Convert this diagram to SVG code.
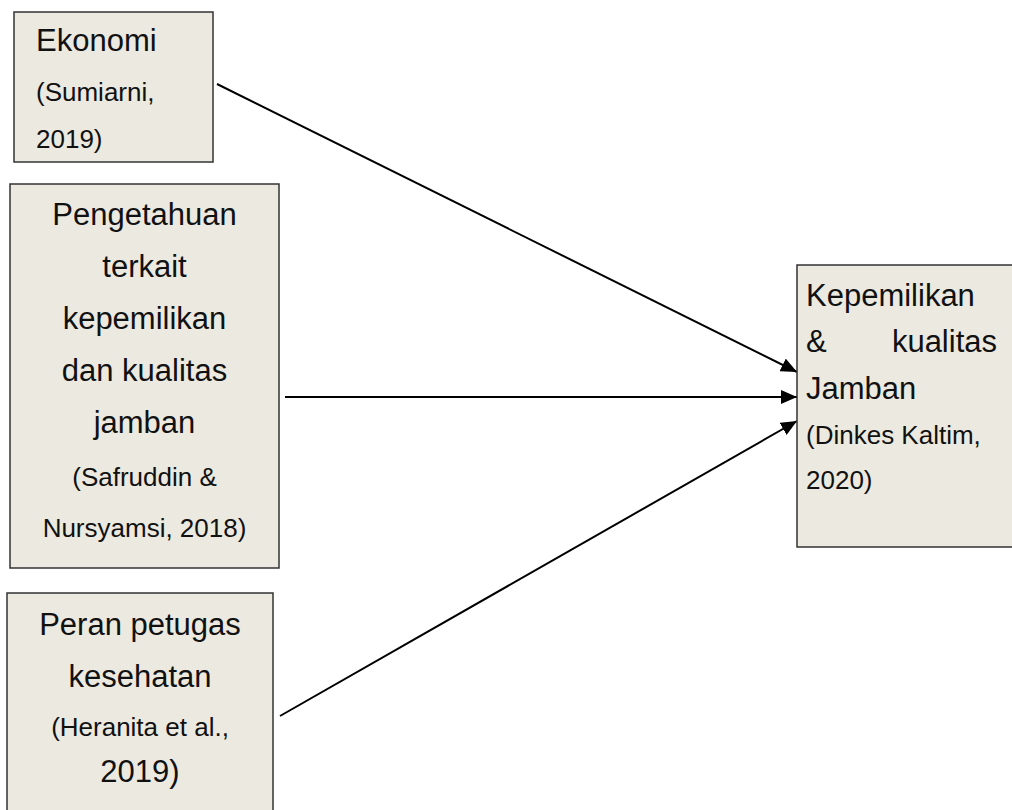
<svg xmlns="http://www.w3.org/2000/svg" width="1012" height="810" viewBox="0 0 1012 810">
<defs>
<style>
.box{fill:#ECE9E0;stroke:#333;stroke-width:1.5}
.lg{font-family:"Liberation Sans",Arial,sans-serif;font-size:31px;fill:#111}
.sm{font-family:"Liberation Sans",Arial,sans-serif;font-size:26px;fill:#111}
.c{text-anchor:middle}
.conn{stroke:#000;stroke-width:2;fill:none;marker-end:url(#ah)}
</style>
<marker id="ah" markerWidth="16" markerHeight="14" refX="16" refY="7" orient="auto" markerUnits="userSpaceOnUse">
<path d="M0,0 L16,7 L0,14 Z" fill="#000"/>
</marker>
</defs>
<rect width="1012" height="810" fill="#fff"/>
<g id="connectors">
<line class="conn" x1="217" y1="84" x2="797" y2="372"/>
<line class="conn" x1="285" y1="397" x2="797" y2="397"/>
<line class="conn" x1="280" y1="716" x2="797" y2="421"/>
</g>
<g id="ekonomi">
<rect class="box" x="14" y="12" width="199" height="150"/>
<text class="lg" x="36" y="51">Ekonomi</text>
<text class="sm" x="36" y="101">(Sumiarni,</text>
<text class="sm" x="36" y="148">2019)</text>
</g>
<g id="pengetahuan">
<rect class="box" x="10" y="184" width="269" height="384"/>
<text class="lg c" x="144.5" y="225">Pengetahuan</text>
<text class="lg c" x="144.5" y="277">terkait</text>
<text class="lg c" x="144.5" y="329">kepemilikan</text>
<text class="lg c" x="144.5" y="381">dan kualitas</text>
<text class="lg c" x="144.5" y="433">jamban</text>
<text class="sm c" x="144.5" y="486">(Safruddin &amp;</text>
<text class="sm c" x="144.5" y="537">Nursyamsi, 2018)</text>
</g>
<g id="peran">
<rect class="box" x="7" y="593" width="266" height="230"/>
<text class="lg c" x="140" y="635">Peran petugas</text>
<text class="lg c" x="140" y="687">kesehatan</text>
<text class="sm c" x="140" y="736">(Heranita et al.,</text>
<text class="lg c" x="140" y="782">2019)</text>
</g>
<g id="kepemilikan">
<rect class="box" x="797" y="265" width="230" height="282"/>
<text class="lg" x="806" y="306">Kepemilikan</text>
<text class="lg" x="806" y="352">&amp;</text>
<text class="lg" x="997" y="352" text-anchor="end">kualitas</text>
<text class="lg" x="806" y="399">Jamban</text>
<text class="sm" x="806" y="444">(Dinkes Kaltim,</text>
<text class="sm" x="806" y="489">2020)</text>
</g>
</svg>
